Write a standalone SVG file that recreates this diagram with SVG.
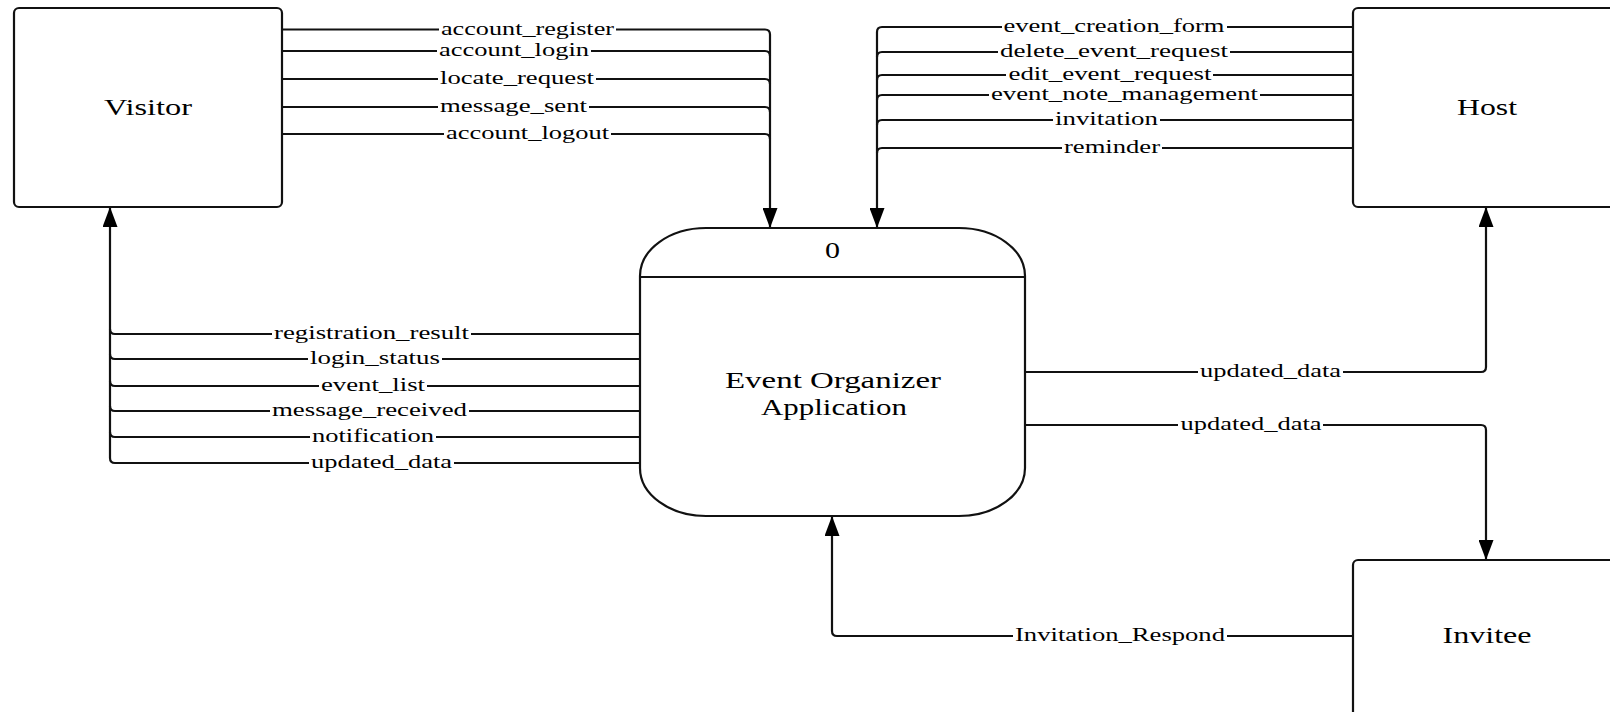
<svg xmlns="http://www.w3.org/2000/svg" width="1610" height="712" viewBox="0 0 1610 712">
<style>
.box{fill:#fff;stroke:#111;stroke-width:2.2}
.ent{font-family:"Liberation Serif","Times New Roman",serif;font-size:24px;fill:#000;text-anchor:middle}
.lbl{font-family:"Liberation Serif","Times New Roman",serif;font-size:18px;fill:#000;text-anchor:middle}
.ln{fill:none;stroke:#111;stroke-width:2.2}
.arr{fill:none;stroke:#111;stroke-width:2.2;marker-end:url(#ah)}
.bg{fill:#fff}
</style>
<defs>
<marker id="ah" markerUnits="userSpaceOnUse" markerWidth="20" markerHeight="15" viewBox="0 0 20 15" refX="20" refY="7.5" orient="auto">
<path d="M0,0 L20,7.5 L0,15 Z" fill="#000"/>
</marker>
</defs>
<rect width="1610" height="712" fill="#fff"/>

<g id="connectors">
<path class="ln" d="M282 51 H765 Q770 51 770 56"/>
<path class="ln" d="M282 79 H765 Q770 79 770 84"/>
<path class="ln" d="M282 107 H765 Q770 107 770 112"/>
<path class="ln" d="M282 134 H765 Q770 134 770 139"/>
<path class="arr" d="M282 29.5 H765 Q770 29.5 770 34.5 V228"/>
<path class="ln" d="M1353 52 H882 Q877 52 877 57"/>
<path class="ln" d="M1353 75 H882 Q877 75 877 80"/>
<path class="ln" d="M1353 95 H882 Q877 95 877 100"/>
<path class="ln" d="M1353 120 H882 Q877 120 877 125"/>
<path class="ln" d="M1353 148 H882 Q877 148 877 153"/>
<path class="arr" d="M1353 27 H882 Q877 27 877 32 V228"/>
<path class="ln" d="M640 334 H115 Q110 334 110 329"/>
<path class="ln" d="M640 359 H115 Q110 359 110 354"/>
<path class="ln" d="M640 386 H115 Q110 386 110 381"/>
<path class="ln" d="M640 411 H115 Q110 411 110 406"/>
<path class="ln" d="M640 437 H115 Q110 437 110 432"/>
<path class="arr" d="M640 463 H115 Q110 463 110 458 V207"/>
<path class="arr" d="M1025 372 H1481 Q1486 372 1486 367 V207"/>
<path class="arr" d="M1025 425 H1481 Q1486 425 1486 430 V560"/>
<path class="arr" d="M1353 636 H837 Q832 636 832 631 V516"/>

<rect class="bg" x="439" y="22" width="177" height="15"/>
<text class="lbl" x="527.5" y="34.5" textLength="173" lengthAdjust="spacingAndGlyphs">account_register</text>
<rect class="bg" x="437" y="44" width="154" height="15"/>
<text class="lbl" x="514" y="56" textLength="150" lengthAdjust="spacingAndGlyphs">account_login</text>
<rect class="bg" x="438" y="72" width="158" height="15"/>
<text class="lbl" x="517" y="84" textLength="154" lengthAdjust="spacingAndGlyphs">locate_request</text>
<rect class="bg" x="438" y="100" width="151" height="15"/>
<text class="lbl" x="513.5" y="112" textLength="147" lengthAdjust="spacingAndGlyphs">message_sent</text>
<rect class="bg" x="444" y="127" width="167" height="15"/>
<text class="lbl" x="527.5" y="139" textLength="163" lengthAdjust="spacingAndGlyphs">account_logout</text>

<rect class="bg" x="1002" y="20" width="225" height="15"/>
<text class="lbl" x="1114" y="32" textLength="221" lengthAdjust="spacingAndGlyphs">event_creation_form</text>
<rect class="bg" x="998" y="45" width="232" height="15"/>
<text class="lbl" x="1114" y="57" textLength="228" lengthAdjust="spacingAndGlyphs">delete_event_request</text>
<rect class="bg" x="1006" y="68" width="207" height="15"/>
<text class="lbl" x="1110" y="80" textLength="203" lengthAdjust="spacingAndGlyphs">edit_event_request</text>
<rect class="bg" x="989" y="88" width="271" height="15"/>
<text class="lbl" x="1124.5" y="100" textLength="267" lengthAdjust="spacingAndGlyphs">event_note_management</text>
<rect class="bg" x="1053" y="113" width="107" height="15"/>
<text class="lbl" x="1106.5" y="125" textLength="103" lengthAdjust="spacingAndGlyphs">invitation</text>
<rect class="bg" x="1062" y="141" width="100" height="15"/>
<text class="lbl" x="1112" y="153" textLength="96" lengthAdjust="spacingAndGlyphs">reminder</text>

<rect class="bg" x="272" y="327" width="199" height="15"/>
<text class="lbl" x="371.5" y="339" textLength="195" lengthAdjust="spacingAndGlyphs">registration_result</text>
<rect class="bg" x="308" y="352" width="134" height="15"/>
<text class="lbl" x="375" y="364" textLength="130" lengthAdjust="spacingAndGlyphs">login_status</text>
<rect class="bg" x="319" y="379" width="108" height="15"/>
<text class="lbl" x="373" y="391" textLength="104" lengthAdjust="spacingAndGlyphs">event_list</text>
<rect class="bg" x="270" y="404" width="199" height="15"/>
<text class="lbl" x="369.5" y="416" textLength="195" lengthAdjust="spacingAndGlyphs">message_received</text>
<rect class="bg" x="310" y="430" width="126" height="15"/>
<text class="lbl" x="373" y="442" textLength="122" lengthAdjust="spacingAndGlyphs">notification</text>
<rect class="bg" x="309" y="456" width="145" height="15"/>
<text class="lbl" x="381.5" y="468" textLength="141" lengthAdjust="spacingAndGlyphs">updated_data</text>

<rect class="bg" x="1198" y="365" width="145" height="15"/>
<text class="lbl" x="1270.5" y="377" textLength="141" lengthAdjust="spacingAndGlyphs">updated_data</text>
<rect class="bg" x="1178" y="418" width="145" height="15"/>
<text class="lbl" x="1251" y="430" textLength="141" lengthAdjust="spacingAndGlyphs">updated_data</text>
<rect class="bg" x="1013" y="629" width="214" height="15"/>
<text class="lbl" x="1120" y="641" textLength="210" lengthAdjust="spacingAndGlyphs">Invitation_Respond</text>
</g>

<g id="visitor">
<rect class="box" x="14" y="8" width="268" height="199" rx="5"/>
<text class="ent" x="148" y="115" textLength="88" lengthAdjust="spacingAndGlyphs">Visitor</text>
</g>
<g id="host">
<rect class="box" x="1353" y="8" width="268" height="199" rx="5"/>
<text class="ent" x="1487" y="115" textLength="60" lengthAdjust="spacingAndGlyphs">Host</text>
</g>
<g id="invitee">
<rect class="box" x="1353" y="560" width="268" height="199" rx="5"/>
<text class="ent" x="1487" y="643" textLength="89" lengthAdjust="spacingAndGlyphs">Invitee</text>
</g>
<g id="process">
<path class="box" d="M706 228 H959 A66 48 0 0 1 1025 276 V468 A66 48 0 0 1 959 516 H706 A66 48 0 0 1 640 468 V276 A66 48 0 0 1 706 228 Z"/>
<line class="ln" x1="640" y1="277" x2="1025" y2="277"/>
<text class="ent" x="832.5" y="258" font-size="22" textLength="15" lengthAdjust="spacingAndGlyphs">0</text>
<text class="ent" x="833" y="388" textLength="216" lengthAdjust="spacingAndGlyphs">Event Organizer</text>
<text class="ent" x="834" y="415" textLength="146" lengthAdjust="spacingAndGlyphs">Application</text>
</g>
</svg>
